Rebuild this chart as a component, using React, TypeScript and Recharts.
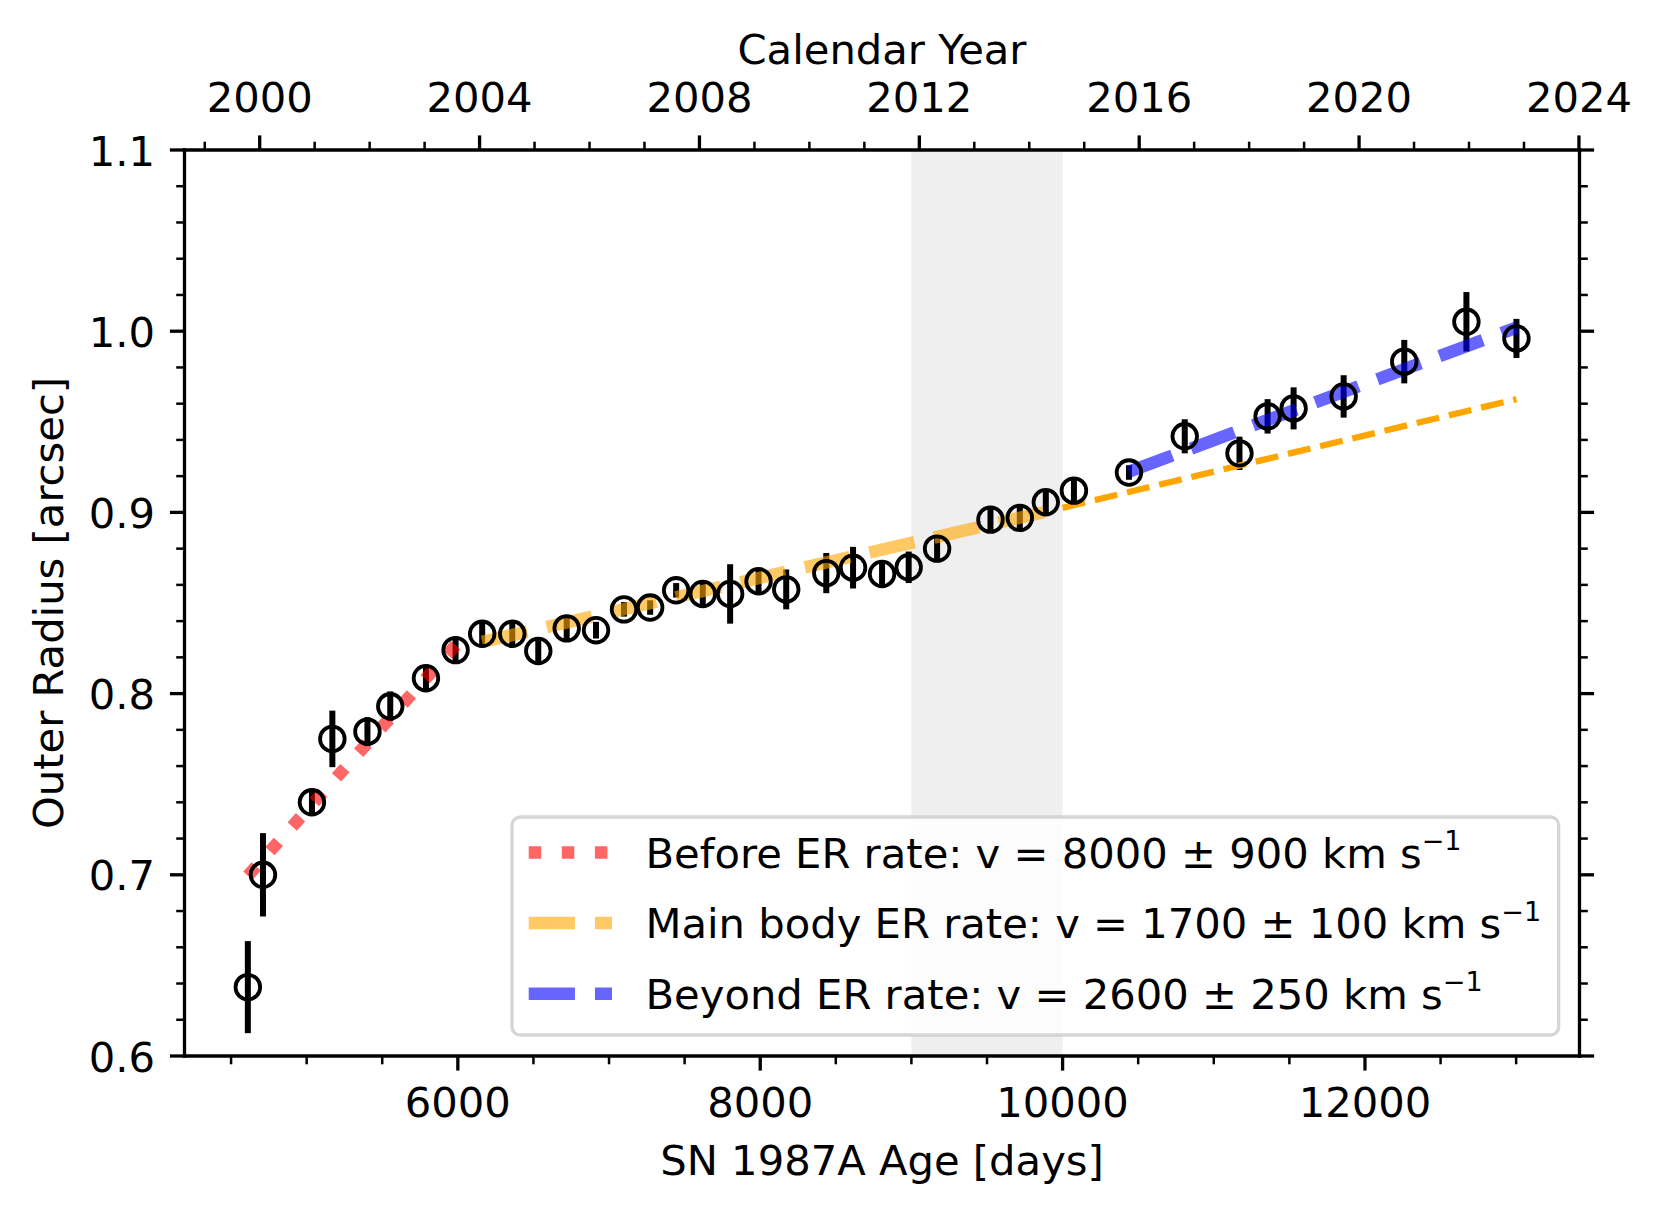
import React from 'react';
import {
  ComposedChart,
  Scatter,
  Line,
  XAxis,
  YAxis,
  ErrorBar,
  ReferenceArea,
} from 'recharts';

// SN 1987A outer radius measurements
const ageDays = [
  4611, 4711, 5035, 5170, 5402, 5553, 5789, 5985, 6161, 6360, 6532, 6720, 6914,
  7099, 7272, 7444, 7620, 7801, 7989, 8172, 8437, 8614, 8806, 8982, 9170, 9523,
  9717, 9889, 10075, 10439, 10808, 11170, 11356, 11528, 11859, 12260, 12671, 13002,
];
const outerRadius = [
  0.638, 0.7, 0.74, 0.775, 0.779, 0.793, 0.8085, 0.824, 0.833, 0.833, 0.8235,
  0.836, 0.835, 0.8465, 0.8475, 0.857, 0.855, 0.855, 0.862, 0.8575, 0.8665,
  0.8695, 0.866, 0.8697, 0.88, 0.896, 0.897, 0.9056, 0.912, 0.922, 0.942,
  0.9326, 0.953, 0.9574, 0.964, 0.9832, 1.0052, 0.996,
];
const radiusErr = [
  0.0254, 0.023, 0.006, 0.0156, 0.008, 0.0082, 0.006, 0.0066, 0.0074, 0.007,
  0.006, 0.0073, 0.0046, 0.004, 0.004, 0.004, 0.0066, 0.0164, 0.0071, 0.011,
  0.0111, 0.0115, 0.006, 0.0087, 0.0058, 0.0064, 0.0064, 0.0064, 0.0064, 0.004,
  0.0094, 0.0092, 0.0095, 0.0116, 0.0117, 0.012, 0.0164, 0.0108,
];

// fitted expansion rates (end points)
const beforeFit = [
  { d: 4611, v: 0.6995 },
  { d: 6000, v: 0.828 },
];
const mainBodyFit = [
  { d: 6161, v: 0.8285 },
  { d: 10000, v: 0.9025 },
];
const mainBodyExtension = [
  { d: 10000, v: 0.9025 },
  { d: 13002, v: 0.9625 },
];
const beyondFit = [
  { d: 10439, v: 0.9225 },
  { d: 13002, v: 1.002 },
];

const shadedDays = [9000, 10000];

// calendar years spanned by the observations (keeps the top axis alive)
const yearSpan = [
  { yr: 1999.77, v: 0.638 },
  { yr: 2022.74, v: 0.996 },
];

const dayTicks = [
  4500, 5000, 5500, 6000, 6500, 7000, 7500, 8000, 8500, 9000, 9500, 10000,
  10500, 11000, 11500, 12000, 12500, 13000,
];
const yearTicks = [
  1999, 2000, 2001, 2002, 2003, 2004, 2005, 2006, 2007, 2008, 2009, 2010, 2011,
  2012, 2013, 2014, 2015, 2016, 2017, 2018, 2019, 2020, 2021, 2022, 2023, 2024,
];
const radiusTicks = [
  0.6, 0.62, 0.64, 0.66, 0.68, 0.7, 0.72, 0.74, 0.76, 0.78, 0.8, 0.82, 0.84,
  0.86, 0.88, 0.9, 0.92, 0.94, 0.96, 0.98, 1.0, 1.02, 1.04, 1.06, 1.08, 1.1,
];

const legendItems = [
  { label: 'Before ER rate: v = 8000 ± 900 km s', color: 'rgba(255,0,0,0.6)', dash: '12.5 20.6' },
  { label: 'Main body ER rate: v = 1700 ± 100 km s', color: 'rgba(255,165,0,0.6)', dash: '46.25 20' },
  { label: 'Beyond ER rate: v = 2600 ± 250 km s', color: 'rgba(0,0,255,0.6)', dash: '46.25 20' },
];

const points = ageDays.map((d, i) => ({ d, v: outerRadius[i], e: radiusErr[i] }));

const FONT = 'DejaVu Sans, sans-serif';
const FS = 41.7;
const MAJOR_LEN = 14.6;
const MINOR_LEN = 8.3;

const isMajorY = (v: number) => Math.abs(v * 10 - Math.round(v * 10)) < 1e-6;

const BottomTick = (props: any) => {
  const { x, y, payload } = props;
  const major = payload.value % 2000 === 0;
  return (
    <g>
      <line x1={x} x2={x} y1={y} y2={y + (major ? MAJOR_LEN : MINOR_LEN)} stroke="#000" strokeWidth={major ? 3.3 : 2.5} />
      {major && (
        <text x={x} y={y + 61} textAnchor="middle" fontSize={FS} fontFamily={FONT} fill="#000">
          {payload.value}
        </text>
      )}
    </g>
  );
};

const TopTick = (props: any) => {
  const { x, y, payload } = props;
  const major = payload.value % 4 === 0;
  return (
    <g>
      <line x1={x} x2={x} y1={y} y2={y - (major ? MAJOR_LEN : MINOR_LEN)} stroke="#000" strokeWidth={major ? 3.3 : 2.5} />
      {major && (
        <text x={x} y={y - 38.5} textAnchor="middle" fontSize={FS} fontFamily={FONT} fill="#000">
          {payload.value}
        </text>
      )}
    </g>
  );
};

const LeftTick = (props: any) => {
  const { x, y, payload } = props;
  const major = isMajorY(payload.value);
  return (
    <g>
      <line x1={x - (major ? MAJOR_LEN : MINOR_LEN)} x2={x} y1={y} y2={y} stroke="#000" strokeWidth={major ? 3.3 : 2.5} />
      {major && (
        <text x={x - 29.5} y={y + 15.5} textAnchor="end" fontSize={FS} fontFamily={FONT} fill="#000">
          {payload.value.toFixed(1)}
        </text>
      )}
    </g>
  );
};

const RightTick = (props: any) => {
  const { x, y, payload } = props;
  const major = isMajorY(payload.value);
  return (
    <line x1={x} x2={x + (major ? MAJOR_LEN : MINOR_LEN)} y1={y} y2={y} stroke="#000" strokeWidth={major ? 3.3 : 2.5} />
  );
};

const Marker = (props: any) => {
  const { cx, cy } = props;
  if (cx == null || cy == null) return null;
  return <circle cx={cx} cy={cy} r={12.3} fill="none" stroke="#000" strokeWidth={3.8} />;
};

const NoMarker = () => <g />;

const axisLine = { stroke: '#000', strokeWidth: 3.3, strokeLinecap: 'square' as const };

const FitLegend = () => (
  <svg width={1662} height={1216} style={{ position: 'absolute', left: 0, top: 0, pointerEvents: 'none' }}>
    <rect
      x={512}
      y={817}
      width={1046.7}
      height={218}
      rx={8.3}
      fill="#fff"
      fillOpacity={0.8}
      stroke="#cccccc"
      strokeOpacity={0.8}
      strokeWidth={3.3}
    />
    {legendItems.map((item, i) => {
      const cy = 852.5 + i * 70.6;
      return (
        <g key={item.label}>
          <line x1={528.7} x2={612} y1={cy} y2={cy} stroke={item.color} strokeWidth={12.5} strokeDasharray={item.dash} />
          <text x={645.5} y={cy + 15.3} fontSize={FS} fontFamily={FONT} fill="#000">
            {item.label}
            <tspan fontSize={27} dy={-17.7}>−1</tspan>
          </text>
        </g>
      );
    })}
  </svg>
);

export default function App() {
  return (
    <div style={{ position: 'absolute', left: 0, top: 0, width: 1662, height: 1216, background: '#fff' }}>
      <ComposedChart width={1662} height={1216} margin={{ top: 0, right: 0, bottom: 0, left: 0 }}>
        <XAxis
          xAxisId="days"
          dataKey="d"
          type="number"
          orientation="bottom"
          domain={[4192, 13419]}
          allowDataOverflow
          ticks={dayTicks}
          interval={0}
          height={160}
          tickSize={0}
          tickMargin={0}
          tickLine={false}
          axisLine={axisLine}
          tick={<BottomTick />}
          label={{
            content: (p: any) => (
              <text x={p.viewBox.x + p.viewBox.width / 2} y={p.viewBox.y + 119} textAnchor="middle" fontSize={FS} fontFamily={FONT} fill="#000">
                SN 1987A Age [days]
              </text>
            ),
          }}
        />
        <XAxis
          xAxisId="years"
          dataKey="yr"
          type="number"
          orientation="top"
          domain={[1998.632, 2024.01]}
          allowDataOverflow
          ticks={yearTicks}
          interval={0}
          height={150}
          tickSize={0}
          tickMargin={0}
          tickLine={false}
          axisLine={axisLine}
          tick={<TopTick />}
          label={{
            content: (p: any) => (
              <text x={p.viewBox.x + p.viewBox.width / 2} y={64} textAnchor="middle" fontSize={FS} fontFamily={FONT} fill="#000">
                Calendar Year
              </text>
            ),
          }}
        />
        <YAxis
          yAxisId="left"
          dataKey="v"
          type="number"
          orientation="left"
          domain={[0.6, 1.1]}
          allowDataOverflow
          ticks={radiusTicks}
          interval={0}
          width={184.5}
          tickSize={0}
          tickMargin={0}
          tickLine={false}
          axisLine={axisLine}
          tick={<LeftTick />}
          label={{
            content: (p: any) => {
              const cy = p.viewBox.y + p.viewBox.height / 2;
              return (
                <text x={62.5} y={cy} transform={`rotate(-90 62.5 ${cy})`} textAnchor="middle" fontSize={FS} fontFamily={FONT} fill="#000">
                  Outer Radius [arcsec]
                </text>
              );
            },
          }}
        />
        <YAxis
          yAxisId="right"
          dataKey="v"
          type="number"
          orientation="right"
          domain={[0.6, 1.1]}
          allowDataOverflow
          ticks={radiusTicks}
          interval={0}
          width={82.5}
          tickSize={0}
          tickMargin={0}
          tickLine={false}
          axisLine={axisLine}
          tick={<RightTick />}
        />

        <ReferenceArea
          xAxisId="days"
          yAxisId="left"
          x1={shadedDays[0]}
          x2={shadedDays[1]}
          fill="#efefef"
          fillOpacity={1}
          stroke="none"
        />

        <Scatter
          xAxisId="years"
          yAxisId="right"
          data={yearSpan}
          dataKey="v"
          shape={<NoMarker />}
          legendType="none"
          isAnimationActive={false}
        />

        <Scatter
          xAxisId="days"
          yAxisId="left"
          data={points}
          dataKey="v"
          shape={<Marker />}
          isAnimationActive={false}
        >
          <ErrorBar dataKey="e" direction="y" width={0} stroke="#000" strokeWidth={6} isAnimationActive={false} />
        </Scatter>

        <Line
          xAxisId="days"
          yAxisId="left"
          data={beforeFit}
          dataKey="v"
          type="linear"
          stroke="rgba(255,0,0,0.6)"
          strokeWidth={12.5}
          strokeDasharray="12.5 20.6"
          dot={false}
          activeDot={false}
          isAnimationActive={false}
        />
        <Line
          xAxisId="days"
          yAxisId="left"
          data={mainBodyFit}
          dataKey="v"
          type="linear"
          stroke="rgba(255,165,0,0.6)"
          strokeWidth={12.5}
          strokeDasharray="46.25 20"
          dot={false}
          activeDot={false}
          isAnimationActive={false}
        />
        <Line
          xAxisId="days"
          yAxisId="left"
          data={mainBodyExtension}
          dataKey="v"
          type="linear"
          stroke="#ffa500"
          strokeWidth={6.25}
          strokeDasharray="23.1 10"
          dot={false}
          activeDot={false}
          isAnimationActive={false}
        />
        <Line
          xAxisId="days"
          yAxisId="left"
          data={beyondFit}
          dataKey="v"
          type="linear"
          stroke="rgba(0,0,255,0.6)"
          strokeWidth={12.5}
          strokeDasharray="46.25 20"
          dot={false}
          activeDot={false}
          isAnimationActive={false}
        />
      </ComposedChart>
      <FitLegend />
    </div>
  );
}
